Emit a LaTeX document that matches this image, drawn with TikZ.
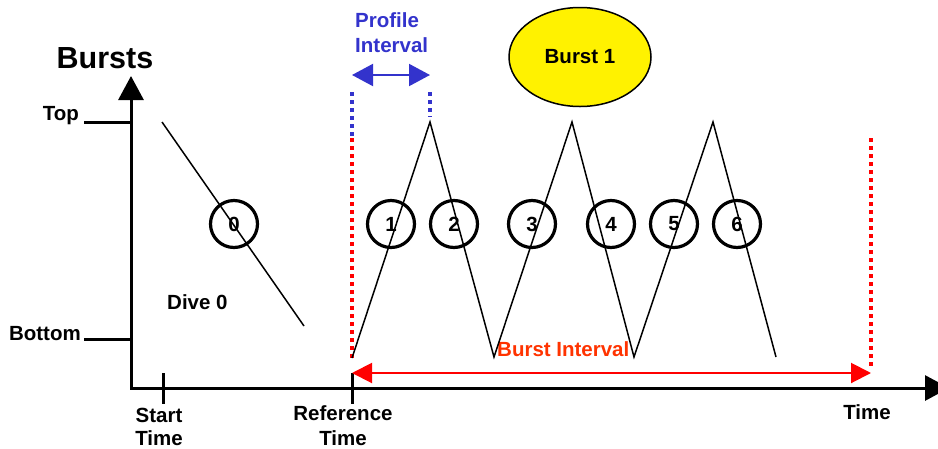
\documentclass[tikz,border=0pt]{standalone}
\usepackage{fontspec}
\setmainfont{Liberation Sans}
\usetikzlibrary{arrows.meta,shapes.geometric}
\definecolor{profblue}{RGB}{51,51,204}
\definecolor{burstred}{RGB}{255,51,0}
\tikzset{
  axishead/.tip={Triangle[length=24pt,width=25pt]},
  profhead/.tip={Triangle[length=21pt,width=22pt]},
  bursthead/.tip={Triangle[length=20pt,width=20pt]},
}
\begin{document}
\begin{tikzpicture}[x=1pt,y=-1pt,
  lbl/.style={font=\bfseries\fontsize{20.5}{24}\selectfont, inner sep=0pt},
  biglbl/.style={font=\bfseries\fontsize{30.5}{34}\selectfont, inner sep=0pt},
  axis/.style={line width=3pt},
  tick/.style={line width=3pt},
  trace/.style={line width=1.5pt, line join=miter},
  phase/.style={draw, circle, line width=3.2pt, minimum size=47pt, lbl},
  reddots/.style={red, line width=3.5pt, dash pattern=on 4pt off 4pt},
  bluedots/.style={profblue, line width=3.5pt, dash pattern=on 4pt off 4pt},
]
\useasboundingbox (0,0) rectangle (938,448);

% axes
\coordinate (origin) at (131,388);
\coordinate (ytip) at (131,76);
\coordinate (xtip) at (949,388);
\draw[axis, axishead-axishead] (ytip) -- (origin) -- (xtip);

% depth ticks on the vertical axis
\coordinate (topL) at (84,122);    \coordinate (topR) at (131,122);
\coordinate (botL) at (84,339);    \coordinate (botR) at (131,339);
\draw[tick] (topL) -- (topR);
\draw[tick] (botL) -- (botR);

% time ticks
\coordinate (startA) at (163,373); \coordinate (startB) at (163,404);
\coordinate (refA) at (352,373);   \coordinate (refB) at (352,404);
\draw[tick] (startA) -- (startB);
\draw[tick] (refA) -- (refB);

% axis labels
\node[biglbl] (bursts) at (105,58) {Bursts};
\node[lbl, anchor=base east] (toplbl) at (79,120) {Top};
\node[lbl, anchor=base east] (botlbl) at (81,340) {Bottom};
\node[lbl, anchor=base] (start1) at (159,422) {Start};
\node[lbl, anchor=base] (start2) at (159,445) {Time};
\node[lbl, anchor=base] (ref1) at (343,420) {Reference};
\node[lbl, anchor=base] (ref2) at (343,445) {Time};
\node[lbl, anchor=base] (timelbl) at (867,419) {Time};

% dive 0
\coordinate (d0a) at (162,122);
\coordinate (d0b) at (304,326);
\draw[trace] (d0a) -- (d0b);
\node[phase] (c0) at (234,224) {0};
\node[lbl, anchor=base west] (dive0) at (167,309) {Dive 0};

% interval markers
\coordinate (rdTop) at (352,138);  \coordinate (rdBot) at (352,360);
\coordinate (bdTop) at (352,92);
\coordinate (pbTop) at (430,92);   \coordinate (pbBot) at (430,117);
\coordinate (reTop) at (871,138);  \coordinate (reBot) at (871,368);
\draw[reddots] (rdTop) -- (rdBot);
\draw[bluedots] (bdTop) -- (rdTop);
\draw[bluedots] (pbTop) -- (pbBot);
\draw[reddots] (reTop) -- (reBot);

% profile interval
\coordinate (paL) at (352,75);  \coordinate (paR) at (430,75);
\draw[profblue, line width=2pt, profhead-profhead] (paL) -- (paR);
\node[lbl, text=profblue, anchor=base west] (prof1) at (355,27) {Profile};
\node[lbl, text=profblue, anchor=base west] (prof2) at (355,52) {Interval};

% burst interval
\coordinate (baL) at (352,373);  \coordinate (baR) at (871,373);
\draw[red, line width=2pt, bursthead-bursthead] (baL) -- (baR);
\node[lbl, text=burstred, anchor=base west] (bint) at (497,356) {Burst Interval};

% burst 1 saw-tooth profile
\coordinate (s0) at (352,358);
\coordinate (s1) at (430,122);
\coordinate (s2) at (494,357);
\coordinate (s3) at (572,122);
\coordinate (s4) at (634,357);
\coordinate (s5) at (713,122);
\coordinate (s6) at (776,357);
\draw[trace] (s0) -- (s1) -- (s2) -- (s3) -- (s4) -- (s5) -- (s6);

\node[phase] (c1) at (391,224) {1};
\node[phase] (c2) at (454,224) {2};
\node[phase] (c3) at (532,224) {3};
\node[phase] (c4) at (611,224) {4};
\node[phase] (c5) at (674,224) {5};
\node[phase] (c6) at (737,224) {6};

% burst 1 badge
\node[draw, ellipse, fill=yellow, line width=1.5pt, minimum width=142pt, minimum height=99pt, lbl] (burst1) at (580,57) {Burst 1};
\end{tikzpicture}
\end{document}
